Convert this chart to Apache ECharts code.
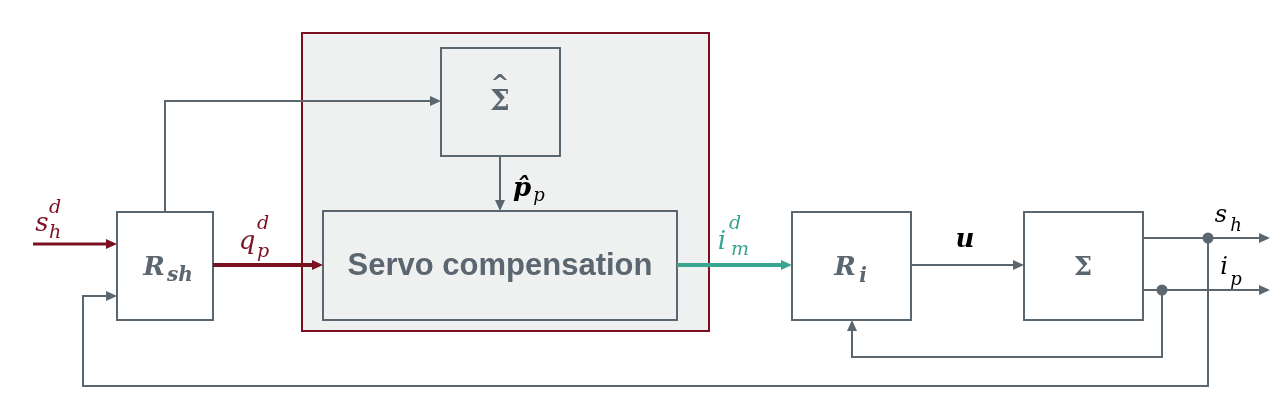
<!DOCTYPE html>
<html><head><meta charset="utf-8">
<script src="https://cdn.jsdelivr.net/npm/echarts@6/dist/echarts.min.js"></script>
<style>html,body{margin:0;background:#fff}#c{width:1284px;height:415px}</style>
</head><body><div id="c"></div>
<script>
// diagram units equal pixels of the 1284x415 picture (y downward)
const blocks = [
  // [x1, y1, x2, y2, fill, stroke, lineWidth]
  [302, 33, 709, 331, '#eff1f0', '#7b1020', 2],
  [441, 48, 560, 156, '#eff1f0', '#5a6670', 2],
  [323, 211, 677, 320, '#eff1f0', '#5a6670', 2],
  [117, 212, 213, 320, '#ffffff', '#5a6670', 2],
  [792, 212, 911, 320, '#ffffff', '#5a6670', 2],
  [1024, 212, 1143, 320, '#ffffff', '#5a6670', 2]
];
const arrows = [
  // [points, colour, width]
  [[[33, 244], [117, 244]], '#7b1020', 3],
  [[[165, 212], [165, 101], [441, 101]], '#5a6670', 2],
  [[[500, 156], [500, 211]], '#5a6670', 2],
  [[[213, 265], [323, 265]], '#7b1020', 4],
  [[[677, 265], [792, 265]], '#3aa58f', 4],
  [[[911, 265], [1024, 265]], '#5a6670', 2],
  [[[1143, 238], [1270, 238]], '#5a6670', 2],
  [[[1143, 290], [1270, 290]], '#5a6670', 2],
  [[[1162, 290], [1162, 357], [852, 357], [852, 320]], '#5a6670', 2],
  [[[1208, 238], [1208, 386], [83, 386], [83, 296], [117, 296]], '#5a6670', 2]
];
const dots = [[1208, 238], [1162, 290]];
const labels = [
  // [x, y, text, colour, size, style, weight, family]
  [500, 103, 'Σ', '#5a6670', 28, 'normal', 'bold', 'DejaVu Serif'],
  [500, 84, '^', '#5a6670', 22, 'normal', 'bold', 'DejaVu Sans'],
  [500, 266, 'Servo compensation', '#5a6670', 31, 'normal', 'bold', 'Liberation Sans'],
  [154, 268, 'R', '#5a6670', 26, 'italic', 'bold', 'DejaVu Serif'],
  [180, 276, 'sh', '#5a6670', 20, 'italic', 'bold', 'DejaVu Serif'],
  [845, 268, 'R', '#5a6670', 26, 'italic', 'bold', 'DejaVu Serif'],
  [863, 277, 'i', '#5a6670', 20, 'italic', 'bold', 'DejaVu Serif'],
  [1083, 268, 'Σ', '#5a6670', 26, 'normal', 'bold', 'DejaVu Serif'],
  [42, 224, 's', '#7b1020', 26, 'italic', 'normal', 'DejaVu Serif'],
  [55, 208, 'd', '#7b1020', 19, 'italic', 'normal', 'DejaVu Serif'],
  [55, 233, 'h', '#7b1020', 19, 'italic', 'normal', 'DejaVu Serif'],
  [247, 242, 'q', '#7b1020', 26, 'italic', 'normal', 'DejaVu Serif'],
  [263, 224, 'd', '#7b1020', 19, 'italic', 'normal', 'DejaVu Serif'],
  [263, 252, 'p', '#7b1020', 19, 'italic', 'normal', 'DejaVu Serif'],
  [722, 242, 'i', '#3aa58f', 26, 'italic', 'normal', 'DejaVu Serif'],
  [735, 224, 'd', '#3aa58f', 19, 'italic', 'normal', 'DejaVu Serif'],
  [740, 250, 'm', '#3aa58f', 19, 'italic', 'normal', 'DejaVu Serif'],
  [522, 189, 'p̂', '#000000', 26, 'italic', 'bold', 'DejaVu Serif'],
  [539, 196, 'p', '#000000', 18, 'italic', 'normal', 'DejaVu Serif'],
  [965, 240, 'u', '#000000', 26, 'italic', 'bold', 'DejaVu Serif'],
  [1221, 216, 's', '#000000', 24, 'italic', 'normal', 'DejaVu Serif'],
  [1236, 226, 'h', '#000000', 18, 'italic', 'normal', 'DejaVu Serif'],
  [1224, 268, 'i', '#000000', 24, 'italic', 'normal', 'DejaVu Serif'],
  [1236, 280, 'p', '#000000', 18, 'italic', 'normal', 'DejaVu Serif']
];

const chart = echarts.init(document.getElementById('c'));
chart.setOption({
  animation: false,
  grid: { left: 0, right: 0, top: 0, bottom: 0 },
  xAxis: { type: 'value', min: 0, max: 1284, show: false },
  yAxis: { type: 'value', min: 0, max: 415, inverse: true, show: false },
  series: [
    {
      type: 'custom',
      silent: true,
      z: 1,
      data: blocks,
      renderItem: (params, api) => {
        const p1 = api.coord([api.value(0), api.value(1)]);
        const p2 = api.coord([api.value(2), api.value(3)]);
        const b = blocks[params.dataIndex];
        return {
          type: 'rect',
          shape: { x: p1[0], y: p1[1], width: p2[0] - p1[0], height: p2[1] - p1[1] },
          style: { fill: b[4], stroke: b[5], lineWidth: b[6] }
        };
      },
      encode: { x: [0, 2], y: [1, 3] }
    },
    {
      type: 'custom',
      silent: true,
      z: 2,
      data: arrows.map((a, i) => [i]),
      renderItem: (params, api) => {
        const a = arrows[params.dataIndex];
        const pts = a[0].map(p => api.coord(p));
        const end = pts[pts.length - 1], prev = pts[pts.length - 2];
        const ang = Math.atan2(end[1] - prev[1], end[0] - prev[0]);
        const len = 11, half = 5;
        const bx = end[0] - len * Math.cos(ang), by = end[1] - len * Math.sin(ang);
        const nx = -Math.sin(ang) * half, ny = Math.cos(ang) * half;
        const line = pts.slice(0, -1).concat([[bx + Math.cos(ang), by + Math.sin(ang)]]);
        return {
          type: 'group',
          children: [
            { type: 'polyline', shape: { points: line }, style: { stroke: a[1], lineWidth: a[2], fill: null } },
            { type: 'polygon', shape: { points: [end, [bx + nx, by + ny], [bx - nx, by - ny]] }, style: { fill: a[1] } }
          ]
        };
      }
    },
    {
      type: 'scatter',
      silent: true,
      z: 3,
      symbolSize: 11,
      itemStyle: { color: '#5a6670', opacity: 1 },
      data: dots
    },
    {
      type: 'scatter',
      silent: true,
      z: 4,
      symbolSize: 1,
      itemStyle: { opacity: 0 },
      data: labels.map(l => ({
        value: [l[0], l[1]],
        label: {
          show: true, position: 'inside', formatter: l[2], color: l[3], fontSize: l[4],
          fontStyle: l[5], fontWeight: l[6], fontFamily: l[7], opacity: 1
        }
      }))
    }
  ]
});
</script></body></html>
